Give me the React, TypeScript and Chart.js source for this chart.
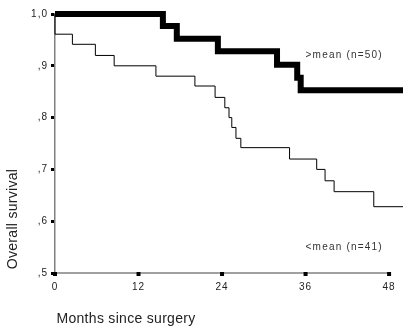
import React, { useEffect, useRef } from "react";
import { Chart, registerables } from "chart.js";

Chart.register(...registerables);

// Kaplan-Meier curves: [month, survival]
const highMonths = [0, 15.5, 17.5, 23.4, 31.9, 34.8, 35.3, 50];
const highSurvival = [1.0, 0.977, 0.952, 0.928, 0.902, 0.877, 0.853, 0.853];

const lowMonths = [0, 0, 2.5, 5.8, 8.5, 14.5, 20.1, 23.0, 24.4, 25.0, 25.4, 26.0, 26.7, 33.7, 37.6, 38.8, 40.1, 45.8, 50];
const lowSurvival = [1.0, 0.961, 0.9415, 0.92, 0.9, 0.88, 0.861, 0.839, 0.819, 0.8, 0.781, 0.76, 0.742, 0.72, 0.7, 0.678, 0.657, 0.628, 0.628];

const xTicks = [0, 12, 24, 36, 48];
const yTicks = [0.5, 0.6, 0.7, 0.8, 0.9, 1.0];
const yTickLabels = [",5", ",6", ",7", ",8", ",9", "1,0"];

const highLabel = ">mean (n=50)";
const lowLabel = "<mean (n=41)";
const xTitle = "Months since surgery";
const yTitle = "Overall survival";

const FONT = "'Liberation Sans', Arial, sans-serif";

export default function App() {
  const ref = useRef<HTMLCanvasElement>(null);

  useEffect(() => {
    const canvas = ref.current!;
    const textPlugin = {
      id: "texts",
      beforeDraw(chart: any) {
        (chart.ctx as any).letterSpacing = "1px";
      },
      afterDraw(chart: any) {
        const ctx = chart.ctx;
        const xs = chart.scales.x;
        const ys = chart.scales.y;
        ctx.save();
        // x axis line (0 to 48)
        ctx.strokeStyle = "#808080";
        ctx.lineWidth = 1.5;
        ctx.beginPath();
        ctx.moveTo(xs.getPixelForValue(0), ys.getPixelForValue(0.5));
        ctx.lineTo(xs.getPixelForValue(48), ys.getPixelForValue(0.5));
        ctx.stroke();
        // tick marks on x
        ctx.fillStyle = "#000";
        xTicks.forEach((v) => {
          const px = xs.getPixelForValue(v);
          ctx.fillRect(px - 2, ys.getPixelForValue(0.5) - 1, 4, 4);
        });
        // annotations
        (ctx as any).letterSpacing = "1.2px";
        ctx.fillStyle = "#333";
        ctx.font = `10px ${FONT}`;
        ctx.textAlign = "left";
        ctx.textBaseline = "middle";
        ctx.fillText(highLabel, xs.getPixelForValue(36), ys.getPixelForValue(0.921));
        ctx.fillText(lowLabel, xs.getPixelForValue(36), ys.getPixelForValue(0.55));
        // titles
        (ctx as any).letterSpacing = "0.3px";
        ctx.fillStyle = "#222";
        ctx.font = `14px ${FONT}`;
        ctx.textAlign = "center";
        ctx.fillText(xTitle, 126, 319);
        ctx.translate(13, 219);
        ctx.rotate(-Math.PI / 2);
        ctx.fillText(yTitle, 0, 0);
        ctx.restore();
      },
    };

    const chart = new Chart(canvas, {
      type: "line",
      data: {
        datasets: [
          {
            label: highLabel,
            data: highMonths.map((m, i) => ({ x: m, y: highSurvival[i] })),
            stepped: "before",
            borderColor: "#000",
            borderWidth: 6,
            pointRadius: 0,
            fill: false,
            clip: false as any,
            borderJoinStyle: "miter",
          },
          {
            label: lowLabel,
            data: lowMonths.map((m, i) => ({ x: m, y: lowSurvival[i] })),
            stepped: "before",
            borderColor: "#000",
            borderWidth: 1,
            pointRadius: 0,
            fill: false,
            clip: false as any,
          },
        ],
      },
      options: {
        responsive: false,
        animation: false,
        events: [],
        layout: { padding: { top: 14, right: 0, left: 0, bottom: 0 } },
        plugins: { legend: { display: false }, tooltip: { enabled: false } },
        scales: {
          x: {
            type: "linear",
            min: 0,
            max: 50,
            afterBuildTicks: (s: any) => {
              s.ticks = xTicks.map((v) => ({ value: v }));
            },
            afterFit: (s: any) => {
              s.height = 54;
            },
            grid: { display: false, drawTicks: false },
            border: { display: false },
            ticks: {
              color: "#222",
              font: { family: FONT, size: 10 },
              padding: 8,
              autoSkip: false,
              maxRotation: 0,
              callback: (v: any) => String(v),
            },
          },
          y: {
            type: "linear",
            min: 0.5,
            max: 1.0,
            afterBuildTicks: (s: any) => {
              s.ticks = yTicks.map((v) => ({ value: v }));
            },
            afterFit: (s: any) => {
              s.width = 55;
            },
            grid: {
              drawOnChartArea: false,
              drawTicks: true,
              tickLength: 4,
              tickWidth: 3,
              tickColor: "#000",
            },
            border: { display: true, color: "#808080", width: 1.5 },
            ticks: {
              color: "#222",
              font: { family: FONT, size: 10 },
              padding: 3,
              callback: (v: any) => {
                const i = yTicks.findIndex((t) => Math.abs(t - v) < 1e-6);
                return i >= 0 ? yTickLabels[i] : "";
              },
            },
          },
        },
      },
      plugins: [textPlugin],
    });
    return () => chart.destroy();
  }, []);

  return (
    <div style={{ position: "absolute", left: 0, top: 0, width: 403, height: 327, background: "#fff" }}>
      <canvas ref={ref} width={403} height={327} style={{ width: 403, height: 327, display: "block" }} />
    </div>
  );
}
